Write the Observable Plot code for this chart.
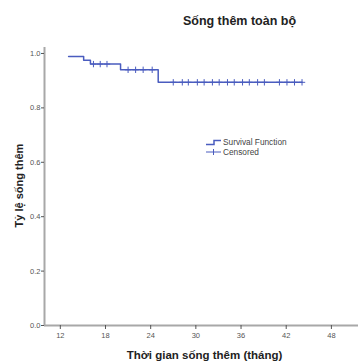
<!DOCTYPE html>
<html>
<head>
<meta charset="utf-8">
<script src="https://cdn.jsdelivr.net/npm/d3@7"></script>
<script src="https://cdn.jsdelivr.net/npm/@observablehq/plot@0.6"></script>
<style>
  html, body { margin: 0; padding: 0; background: #fff; }
  #wrap { position: relative; width: 358px; height: 362px; font-family: "Liberation Sans", Arial, sans-serif; }
  #legend { position: absolute; left: 205px; top: 137px; font-size: 8.3px; color: #444; line-height: 10px; }
  #legend div { display: flex; align-items: center; }
  #legend svg { margin-right: 1px; }
</style>
</head>
<body>
<div id="wrap"></div>
<script>
const title = "Sống thêm toàn bộ";
const xLabel = "Thời gian sống thêm (tháng)";
const yLabel = "Tỷ lệ sống thêm";
const legendLabels = ["Survival Function", "Censored"];

// Step points of the survival curve (months, survival proportion)
const stepTimes = [13.1, 15.1, 16.0, 20.0, 25.0, 44.1];
const stepSurv  = [0.989, 0.975, 0.961, 0.940, 0.894, 0.894];

// Censored observation times (months)
const censorTimes = [16.4, 17.3, 18.2, 21.0, 22.0, 23.0, 24.2, 27.0, 28.2, 29.0, 30.2, 31.1, 32.2, 33.1, 34.2, 35.1, 36.2, 37.1, 38.2, 39.1, 41.1, 42.1, 43.1, 44.1];

const xTicks = [12, 18, 24, 30, 36, 42, 48];
const yTicks = [0, 0.2, 0.4, 0.6, 0.8, 1.0];

const blue = "#4a5cbf";
const axisGray = "#a8a8a8";

const steps = stepTimes.map((t, i) => ({t, s: stepSurv[i]}));
function survAt(t) {
  let s = 1;
  for (const d of steps) if (d.t <= t) s = d.s;
  return s;
}
const censored = censorTimes.map(t => ({t, s: survAt(t)}));

const xDom = [9.9, 51.6];
const yDom = [0, 1.022];

const chart = Plot.plot({
  width: 358,
  height: 362,
  marginTop: 47,
  marginBottom: 37,
  marginLeft: 44,
  marginRight: 0,
  style: {fontFamily: "Liberation Sans, Arial, sans-serif", background: "#fff"},
  x: {domain: xDom, range: [44, 358]},
  y: {domain: yDom, range: [325, 47]},
  marks: [
    Plot.ruleX([xDom[0]], {y1: yDom[0], y2: yDom[1], stroke: axisGray, strokeWidth: 2}),
    Plot.ruleY([0], {x1: xDom[0], x2: xDom[1], stroke: axisGray, strokeWidth: 2}),
    Plot.axisY({ticks: yTicks, tickFormat: d3.format(".1f"), tickSize: 3, tickPadding: 1, fontSize: 7.5, color: "#555", stroke: "#555", label: null}),
    Plot.axisX({ticks: xTicks, tickSize: 4, tickPadding: 3, fontSize: 7.5, color: "#555", stroke: "#555", label: null}),
    Plot.line(steps, {x: "t", y: "s", curve: "step-after", stroke: blue, strokeWidth: 1.5}),
    Plot.dot(censored, {x: "t", y: "s", symbol: "plus", r: 2.2, stroke: blue, strokeWidth: 1}),
    Plot.text([title], {frameAnchor: "top", lineAnchor: "middle", dx: 38, dy: -27, fontSize: 12.5, fontWeight: "bold", fill: "#222"}),
    Plot.text([xLabel], {frameAnchor: "bottom", lineAnchor: "middle", dx: 3, dy: 30, fontSize: 11.5, fontWeight: "bold", fill: "#222"}),
    Plot.text([yLabel], {frameAnchor: "left", textAnchor: "middle", lineAnchor: "middle", dx: -25, dy: -1, rotate: -90, fontSize: 11, fontWeight: "bold", fill: "#222"})
  ]
});
document.getElementById("wrap").appendChild(chart);

const legend = document.createElement("div");
legend.id = "legend";
legend.innerHTML =
  `<div><svg width="17" height="8"><path d="M1,6.5 H9 V2.5 H16" fill="none" stroke="${blue}" stroke-width="1.5"/></svg>${legendLabels[0]}</div>` +
  `<div><svg width="17" height="8"><path d="M1,4 H16 M8.5,1 V7" fill="none" stroke="${blue}" stroke-width="1"/></svg>${legendLabels[1]}</div>`;
document.getElementById("wrap").appendChild(legend);
</script>
</body>
</html>
